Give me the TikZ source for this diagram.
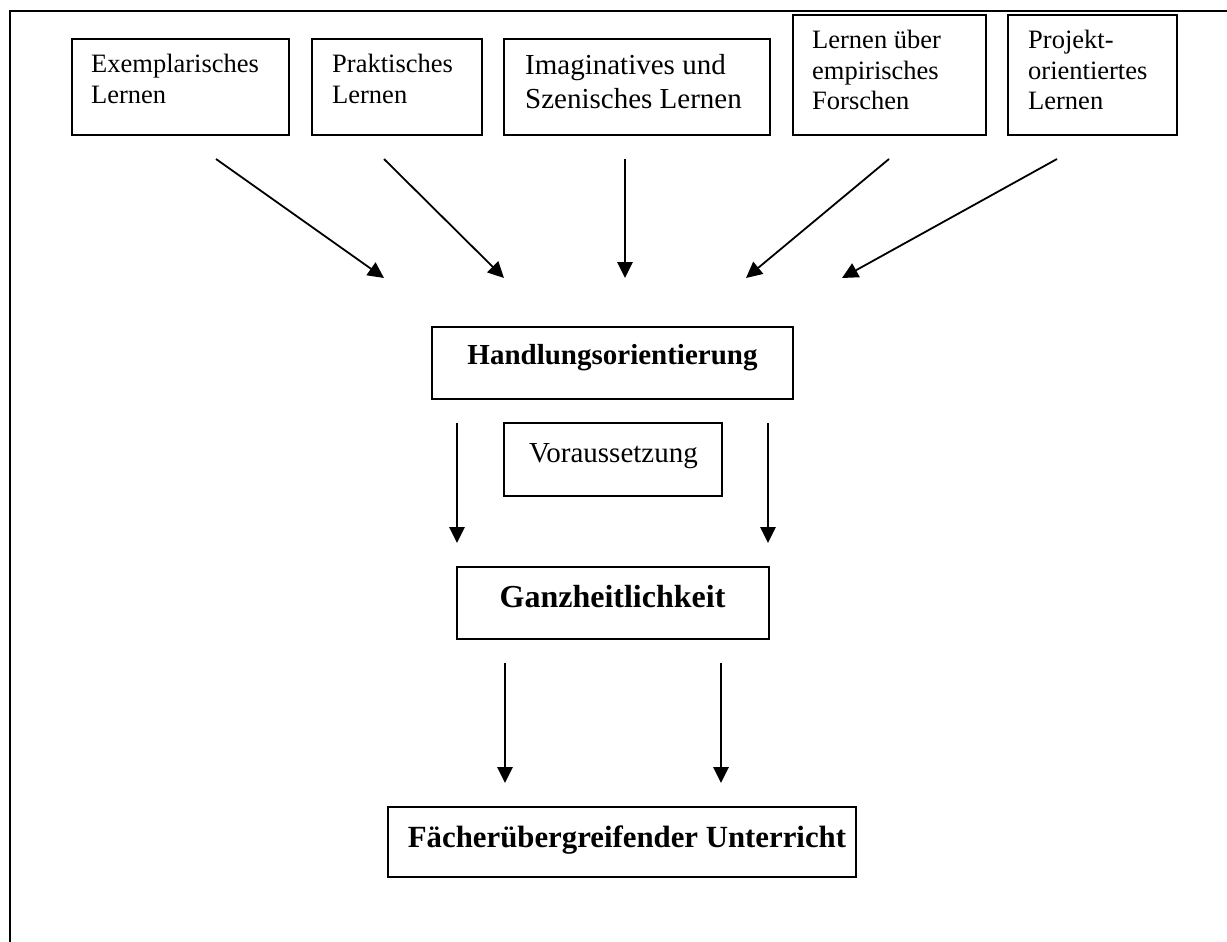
\documentclass[tikz,border=0pt]{standalone}
\usepackage{fontspec}
\setmainfont{Liberation Serif}
\usetikzlibrary{arrows.meta}
\tikzset{
  frame/.style={line width=2.8pt, line cap=rect},
  box/.style={draw, line width=2pt, inner sep=0pt},
  smalltext/.style={inner sep=0pt, align=left, font={\fontsize{26.5}{30.5}\selectfont}},
  midtext/.style={inner sep=0pt, align=left, font={\fontsize{29}{34}\selectfont}},
  plaintext/.style={inner sep=0pt, font={\fontsize{29}{34}\selectfont}},
  boldtext/.style={inner sep=0pt, font={\fontsize{#1}{#1}\selectfont\bfseries}},
  arr/.style={line width=1.8pt, -{Triangle[length=16pt,width=15.5pt]}}
}
\begin{document}
\begin{tikzpicture}[x=1pt,y=-1pt]
\useasboundingbox (0,0) rectangle (1227,942);

% outer frame: top and left edges
\draw[frame] (10,942) -- (10,11) -- (1227,11);

% top row of learning forms (text placed by the baseline of its last line)
\node[box, minimum width=217pt, minimum height=96pt] (ex) at (180.5,87) {};
\node[smalltext, anchor=base west] (ex-t) at ([shift={(20,65)}]ex.north west) {Exemplarisches\\Lernen};

\node[box, minimum width=170pt, minimum height=96pt] (pr) at (397,87) {};
\node[smalltext, anchor=base west] (pr-t) at ([shift={(21,65)}]pr.north west) {Praktisches\\Lernen};

\node[box, minimum width=266pt, minimum height=96pt] (im) at (637,87) {};
\node[midtext, anchor=base west] (im-t) at ([shift={(22,71)}]im.north west) {Imaginatives und\\Szenisches Lernen};

\node[box, minimum width=193pt, minimum height=120pt] (fo) at (889.5,75) {};
\node[smalltext, anchor=base west] (fo-t) at ([shift={(20,96)}]fo.north west) {Lernen über\\empirisches\\Forschen};

\node[box, minimum width=169pt, minimum height=120pt] (pj) at (1092.5,75) {};
\node[smalltext, anchor=base west] (pj-t) at ([shift={(21,96)}]pj.north west) {Projekt-\\orientiertes\\Lernen};

% central chain
\node[box, minimum width=361pt, minimum height=72pt] (ho) at (612.5,363) {};
\node[boldtext=29, anchor=base] (ho-t) at (612.5,364) {Handlungsorientierung};

\node[box, minimum width=218pt, minimum height=73pt] (vo) at (613,459.5) {};
\node[plaintext, anchor=base] (vo-t) at (613.5,462) {Voraussetzung};

\node[box, minimum width=312pt, minimum height=72pt] (gz) at (613,603) {};
\node[boldtext=32, anchor=base] (gz-t) at (612.5,607) {Ganzheitlichkeit};

\node[box, minimum width=468pt, minimum height=70pt] (fu) at (622,842) {};
\node[boldtext=30.8, anchor=base] (fu-t) at (627,847) {Fächerübergreifender Unterricht};

% arrow end points
\coordinate (a1s) at (216,159);  \coordinate (a1e) at (384,278);
\coordinate (a2s) at (384,159);  \coordinate (a2e) at (504,278);
\coordinate (a3s) at (625,159);  \coordinate (a3e) at (625,278);
\coordinate (a4s) at (889,159);  \coordinate (a4e) at (746,278);
\coordinate (a5s) at (1057,159); \coordinate (a5e) at (842,278);

\coordinate (b1s) at (457,423);  \coordinate (b1e) at (457,543);
\coordinate (b2s) at (768,423);  \coordinate (b2e) at (768,543);

\coordinate (c1s) at (505,663);  \coordinate (c1e) at (505,783);
\coordinate (c2s) at (721,663);  \coordinate (c2e) at (721,783);

\foreach \p in {a1,a2,a3,a4,a5,b1,b2,c1,c2}
  \draw[arr] (\p s) -- (\p e);
\end{tikzpicture}
\end{document}
